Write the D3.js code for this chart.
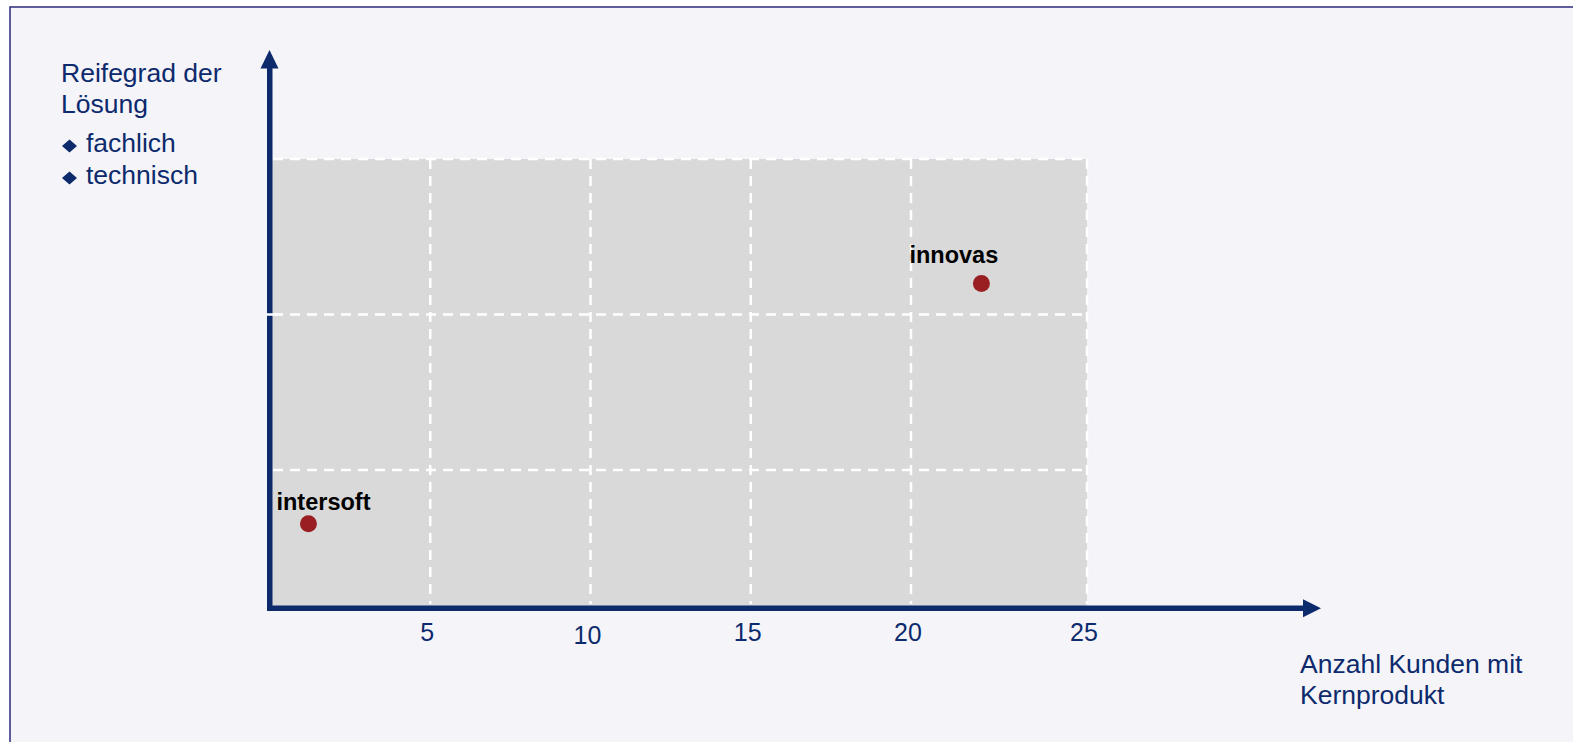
<!DOCTYPE html>
<html>
<head>
<meta charset="utf-8">
<script src="https://cdn.jsdelivr.net/npm/d3@7"></script>
<style>
  body { margin: 0; background: #fff; }
  svg { display: block; font-family: "Liberation Sans", Arial, sans-serif; }
</style>
</head>
<body>
<script>
// Werte aus dem Bild
const companies = ["intersoft", "innovas"];
const customers = [1.2, 22];      // Anzahl Kunden mit Kernprodukt
const maturity = [0.61, 2.2];     // Reifegrad (0..3)
const xTicks = [5, 10, 15, 20, 25];
const yGrid = [1, 2, 3];
const yTitle = ["Reifegrad der", "Lösung"];
const yBullets = ["fachlich", "technisch"];
const xTitle = ["Anzahl Kunden mit", "Kernprodukt"];

const width = 1573;
const height = 742;
const navy = "#0c2a6c";

const svg = d3.select("body").append("svg")
  .attr("width", width)
  .attr("height", height);

// Hintergrund mit Rahmen oben/links
svg.append("rect")
  .attr("x", 10).attr("y", 7)
  .attr("width", width).attr("height", height)
  .attr("fill", "#f4f4f9");
svg.append("path")
  .attr("d", `M10,${height} V7 H${width}`)
  .attr("fill", "none")
  .attr("stroke", "#2b2b7e")
  .attr("stroke-width", 1.5);

// Skalen (leicht ungleichmaessig wie im Original)
const x = d3.scaleLinear().domain([0, 20, 25]).range([270, 911, 1087]);
const y = d3.scaleLinear().domain([0, 1, 3]).range([608, 470, 159]);

// graue Flaeche
svg.append("rect")
  .attr("x", x(0)).attr("y", y(3))
  .attr("width", x(25) - x(0))
  .attr("height", y(0) - y(3))
  .attr("fill", "#d9d9d9");

const grid = svg.append("g")
  .attr("stroke", "#fff")
  .attr("stroke-width", 2.5)
  .attr("stroke-dasharray", "10,7");

grid.selectAll("line.v").data(xTicks).enter().append("line")
  .attr("class", "v")
  .attr("x1", d => x(d)).attr("x2", d => x(d))
  .attr("y1", y(3)).attr("y2", y(0) - 4);

grid.selectAll("line.h").data(yGrid).enter().append("line")
  .attr("class", "h")
  .attr("x1", x(0) + 3)
  .attr("x2", x(25))
  .attr("y1", d => y(d)).attr("y2", d => y(d));

// Achsen mit Pfeilen
const axes = svg.append("g").attr("fill", navy);
axes.append("rect")
  .attr("x", x(0) - 3).attr("y", 66)
  .attr("width", 5.5).attr("height", y(0) + 3 - 66);
axes.append("path")
  .attr("d", `M${x(0) - 0.5},50 L${x(0) + 8.5},68.5 L${x(0) - 9.5},68.5 Z`);
axes.append("rect")
  .attr("x", x(0) - 3).attr("y", y(0) - 2.5)
  .attr("width", 1305 - x(0) + 3).attr("height", 5.5);
axes.append("path")
  .attr("d", `M1321,${y(0) + 0.3} L1303,${y(0) - 8.7} L1303,${y(0) + 9.3} Z`);

// Gitterlinie ueber der Achse (Mitte)
svg.append("line")
  .attr("x1", x(0) - 3).attr("x2", x(0) + 8)
  .attr("y1", y(2)).attr("y2", y(2))
  .attr("stroke", "#fff").attr("stroke-width", 2.5);

// Tick-Beschriftung
svg.selectAll("text.tick").data(xTicks).enter().append("text")
  .attr("class", "tick")
  .attr("x", d => x(d) - 3)
  .attr("y", (d, i) => i === 1 ? 644 : 641)
  .attr("text-anchor", "middle")
  .attr("font-size", 25)
  .attr("fill", navy)
  .text(d => d);

// Achsentitel
svg.selectAll("text.ytitle").data(yTitle).enter().append("text")
  .attr("class", "ytitle")
  .attr("x", 61)
  .attr("y", (d, i) => 82 + i * 31)
  .attr("font-size", 26.5)
  .attr("fill", navy)
  .text(d => d);

const bullets = svg.selectAll("g.bullet").data(yBullets).enter().append("g")
  .attr("class", "bullet")
  .attr("transform", (d, i) => `translate(0, ${152 + i * 32})`);
bullets.append("path")
  .attr("d", "M62,-6 L69.5,-12.5 L77,-6 L69.5,0.5 Z")
  .attr("fill", navy);
bullets.append("text")
  .attr("x", 86)
  .attr("font-size", 26.5)
  .attr("fill", navy)
  .text(d => d);

svg.selectAll("text.xtitle").data(xTitle).enter().append("text")
  .attr("class", "xtitle")
  .attr("x", 1300)
  .attr("y", (d, i) => 673 + i * 31)
  .attr("font-size", 26.5)
  .attr("fill", navy)
  .text(d => d);

// Punkte mit Beschriftung
const labelPos = { intersoft: [-32, -14], innovas: [-72, -20] };
const pts = svg.selectAll("g.pt").data(companies).enter().append("g")
  .attr("class", "pt")
  .attr("transform", (d, i) => `translate(${x(customers[i])}, ${y(maturity[i])})`);
pts.append("circle")
  .attr("r", 8.5)
  .attr("fill", "#9a1f23");
pts.append("text")
  .attr("x", d => labelPos[d][0])
  .attr("y", d => labelPos[d][1])
  .attr("font-size", 23.5)
  .attr("font-weight", "bold")
  .attr("fill", "#000")
  .text(d => d);
</script>
</body>
</html>
